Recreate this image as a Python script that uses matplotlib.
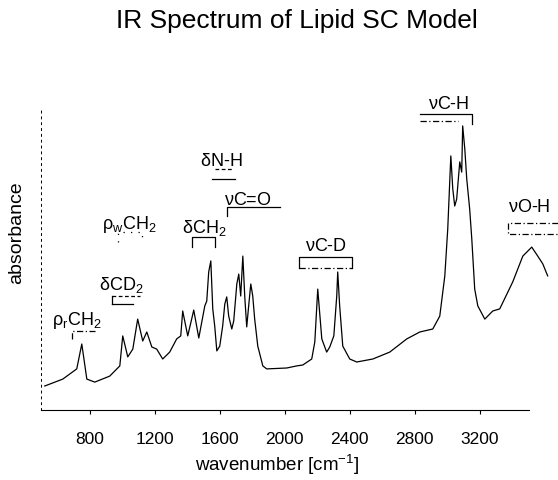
import matplotlib
matplotlib.use('Agg')
import matplotlib.pyplot as plt

plt.rcParams['font.family'] = ['Liberation Sans', 'DejaVu Sans']
plt.rcParams['mathtext.default'] = 'regular'

# spectrum (wavenumber, absorbance in arbitrary units)
wavenumber = [523, 634, 677, 720, 751, 782, 831, 923, 985, 1003, 1034, 1065, 1095,
              1126, 1151, 1182, 1212, 1249, 1292, 1335, 1360, 1372, 1403, 1440, 1471,
              1508, 1520, 1532, 1545, 1557, 1569, 1582, 1600, 1618, 1631, 1643, 1655,
              1674, 1686, 1705, 1717, 1729, 1742, 1754, 1766, 1778, 1791, 1803, 1815,
              1834, 1865, 1889, 2012, 2074, 2111, 2166, 2185, 2203, 2228, 2258, 2277,
              2302, 2320, 2326, 2338, 2357, 2400, 2443, 2542, 2646, 2751, 2831, 2911,
              2954, 2985, 3003, 3022, 3034, 3046, 3058, 3077, 3089, 3095, 3108, 3120,
              3138, 3151, 3169, 3188, 3231, 3280, 3323, 3403, 3465, 3520, 3557, 3588,
              3618]
absorbance = [0.080, 0.103, 0.120, 0.137, 0.220, 0.103, 0.093, 0.113, 0.147, 0.247,
              0.177, 0.203, 0.303, 0.230, 0.260, 0.210, 0.203, 0.170, 0.193, 0.237,
              0.247, 0.330, 0.247, 0.333, 0.240, 0.347, 0.363, 0.460, 0.497, 0.337,
              0.280, 0.197, 0.213, 0.280, 0.353, 0.377, 0.313, 0.270, 0.297, 0.420,
              0.453, 0.380, 0.513, 0.377, 0.277, 0.347, 0.420, 0.380, 0.303, 0.213,
              0.147, 0.137, 0.140, 0.147, 0.150, 0.170, 0.227, 0.403, 0.237, 0.193,
              0.210, 0.247, 0.380, 0.460, 0.347, 0.213, 0.170, 0.160, 0.170, 0.193,
              0.237, 0.260, 0.270, 0.313, 0.447, 0.603, 0.847, 0.737, 0.680, 0.703,
              0.827, 0.793, 0.947, 0.870, 0.770, 0.670, 0.570, 0.403, 0.347, 0.303,
              0.330, 0.337, 0.427, 0.513, 0.543, 0.513, 0.487, 0.447]

xticks = [800, 1200, 1600, 2000, 2400, 2800, 3200]

band_labels = [r'$\rho_r$CH$_2$', r'$\delta$CD$_2$', r'$\rho_w$CH$_2$', r'$\delta$CH$_2$',
               r'$\delta$N-H', r'$\nu$C=O', r'$\nu$C-D', r'$\nu$C-H', r'$\nu$O-H']
# label centre (wavenumber, absorbance)
band_pos = [(720, 0.30), (997, 0.42), (1046, 0.62), (1508, 0.61), (1612, 0.83),
            (1772, 0.70), (2252, 0.547), (3009, 1.02), (3505, 0.677)]


def seg(ax, xs, ys, ls='-'):
    ax.plot(xs, ys, color='black', lw=0.9, ls=ls, clip_on=False)


fig = plt.figure(figsize=(5.58, 4.81), dpi=100)
ax = fig.add_axes([41/558, 1-411/481, 507/558, 300/481])

ax.plot(wavenumber, absorbance, color='black', lw=0.9, clip_on=False)

for lab, (x, y) in zip(band_labels, band_pos):
    ax.text(x, y, lab, ha='center', va='center', fontsize=13, clip_on=False)

dd = (0, (5, 2, 1, 2))
# brackets under the labels
seg(ax, [689, 689, 831], [0.237, 0.263, 0.263], dd)            # rho_r CH2
seg(ax, [935, 1065], [0.353, 0.353])                           # delta CD2
seg(ax, [935, 935], [0.353, 0.38])
seg(ax, [935, 1108], [0.38, 0.38], (0, (3, 2)))
seg(ax, [972, 972, 1120, 1120], [0.56, 0.593, 0.593, 0.56], (0, (1, 5)))  # rho_w CH2
seg(ax, [1428, 1428, 1569, 1569], [0.543, 0.577, 0.577, 0.543])  # delta CH2
seg(ax, [1570, 1680], [0.803, 0.803], (0, (3, 2)))             # delta N-H
seg(ax, [1551, 1692], [0.77, 0.77])
seg(ax, [1643, 1643, 1969], [0.647, 0.677, 0.677])             # nu C=O
seg(ax, [2086, 2086, 2412, 2412], [0.473, 0.51, 0.51, 0.473])  # nu C-D
seg(ax, [2086, 2412], [0.473, 0.473], dd)
seg(ax, [2831, 3151, 3151], [0.987, 0.987, 0.953])             # nu C-H
seg(ax, [2831, 3065], [0.963, 0.963], dd)
seg(ax, [3680, 3372, 3372, 3680], [0.623, 0.623, 0.587, 0.587], dd)  # nu O-H

ax.set_xlim(500, 3620)
ax.set_ylim(0, 1)
ax.set_xticks(xticks)
ax.set_yticks([])
ax.tick_params(axis='x', labelsize=12.5, length=3, width=0.8, direction='out', pad=12)
ax.spines['top'].set_visible(False)
ax.spines['right'].set_visible(False)
ax.spines['bottom'].set_bounds(500, 3500)
ax.spines['left'].set_linestyle((0, (2, 4)))
ax.spines['left'].set_linewidth(0.7)

fig.text(277/558, 1-465/481, 'wavenumber [cm$^{-1}$]', ha='center', va='center', fontsize=13.5)
fig.text(17/558, 1-233/481, 'absorbance', ha='center', va='center', rotation=90, fontsize=14)
fig.text(297/558, 1-21/481, 'IR Spectrum of Lipid SC Model', ha='center', va='center', fontsize=19)

plt.savefig('out.png', dpi=100)
